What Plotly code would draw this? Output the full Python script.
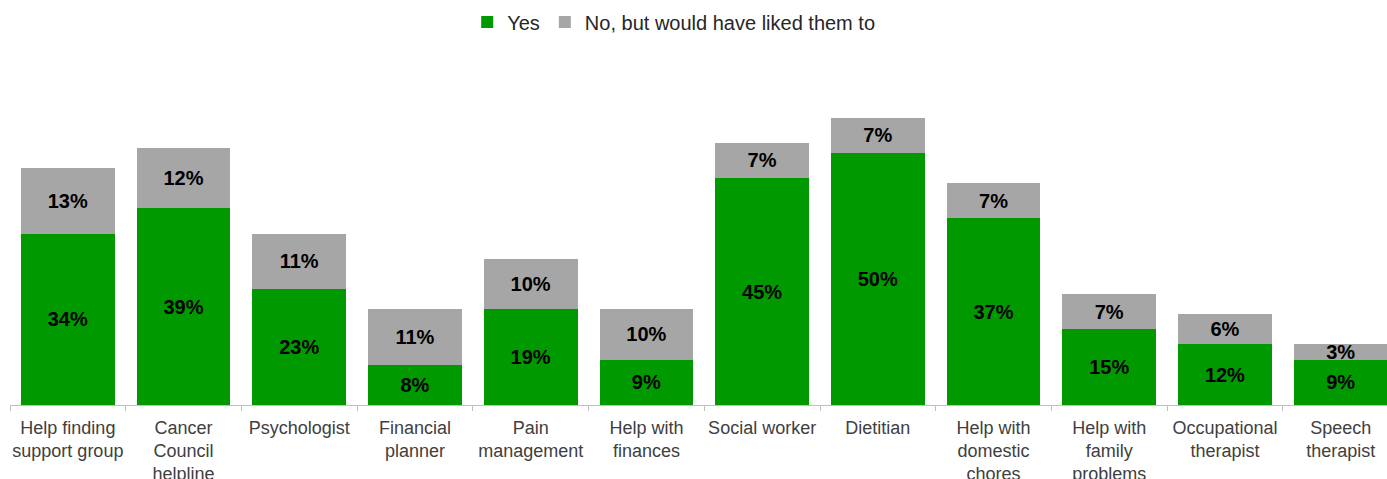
import plotly.graph_objects as go

categories = [
    "Help finding<br>support group", "Cancer<br>Council<br>helpline", "Psychologist",
    "Financial<br>planner", "Pain<br>management", "Help with<br>finances",
    "Social worker", "Dietitian", "Help with<br>domestic<br>chores",
    "Help with<br>family<br>problems", "Occupational<br>therapist", "Speech<br>therapist",
]
yes_values = [34, 39, 23, 8, 19, 9, 45, 50, 37, 15, 12, 9]
would_like_values = [13, 12, 11, 11, 10, 10, 7, 7, 7, 7, 6, 3]

GREEN = "#009900"
GREY = "#a6a6a6"
FONT = "Liberation Sans, Arial, sans-serif"
LABEL_FONT = dict(family=FONT, size=20, color="black", weight="bold")

fig = go.Figure()
fig.add_trace(go.Bar(
    x=categories, y=yes_values, name="Yes",
    marker=dict(color=GREEN, line=dict(width=0)),
    texttemplate="%{y}%", textposition="inside", insidetextanchor="middle",
    textangle=0, textfont=LABEL_FONT,
))
fig.add_trace(go.Bar(
    x=categories, y=would_like_values, name="No, but would have liked them to",
    marker=dict(color=GREY, line=dict(width=0)),
    texttemplate="%{y}%", textposition="inside", insidetextanchor="middle",
    textangle=0, textfont=LABEL_FONT,
))

fig.update_layout(
    barmode="stack", bargap=0.19,
    width=1387, height=479,
    margin=dict(l=10, r=0, t=60, b=74, autoexpand=False),
    plot_bgcolor="white", paper_bgcolor="white",
    font=dict(family=FONT, size=18, color="#404040"),
    uniformtext=dict(minsize=20, mode="show"),
    showlegend=True,
    legend=dict(orientation="h", x=0.482, xanchor="center", yref="container",
                y=0.954, yanchor="middle", font=dict(size=20, color="#262626"),
                traceorder="normal", itemwidth=30),
)
fig.update_xaxes(
    type="category", range=[-0.5, 11.4],
    showline=True, linecolor="#bfbfbf", linewidth=1,
    ticks="outside", tickson="boundaries", ticklen=5, tickcolor="#bfbfbf",
    ticklabelstandoff=6, tickangle=0, automargin=False,
    showgrid=False, tickfont=dict(size=18, color="#404040"),
)
fig.update_yaxes(range=[0, 68.4], visible=False, showgrid=False)

fig.write_html("out.html")
